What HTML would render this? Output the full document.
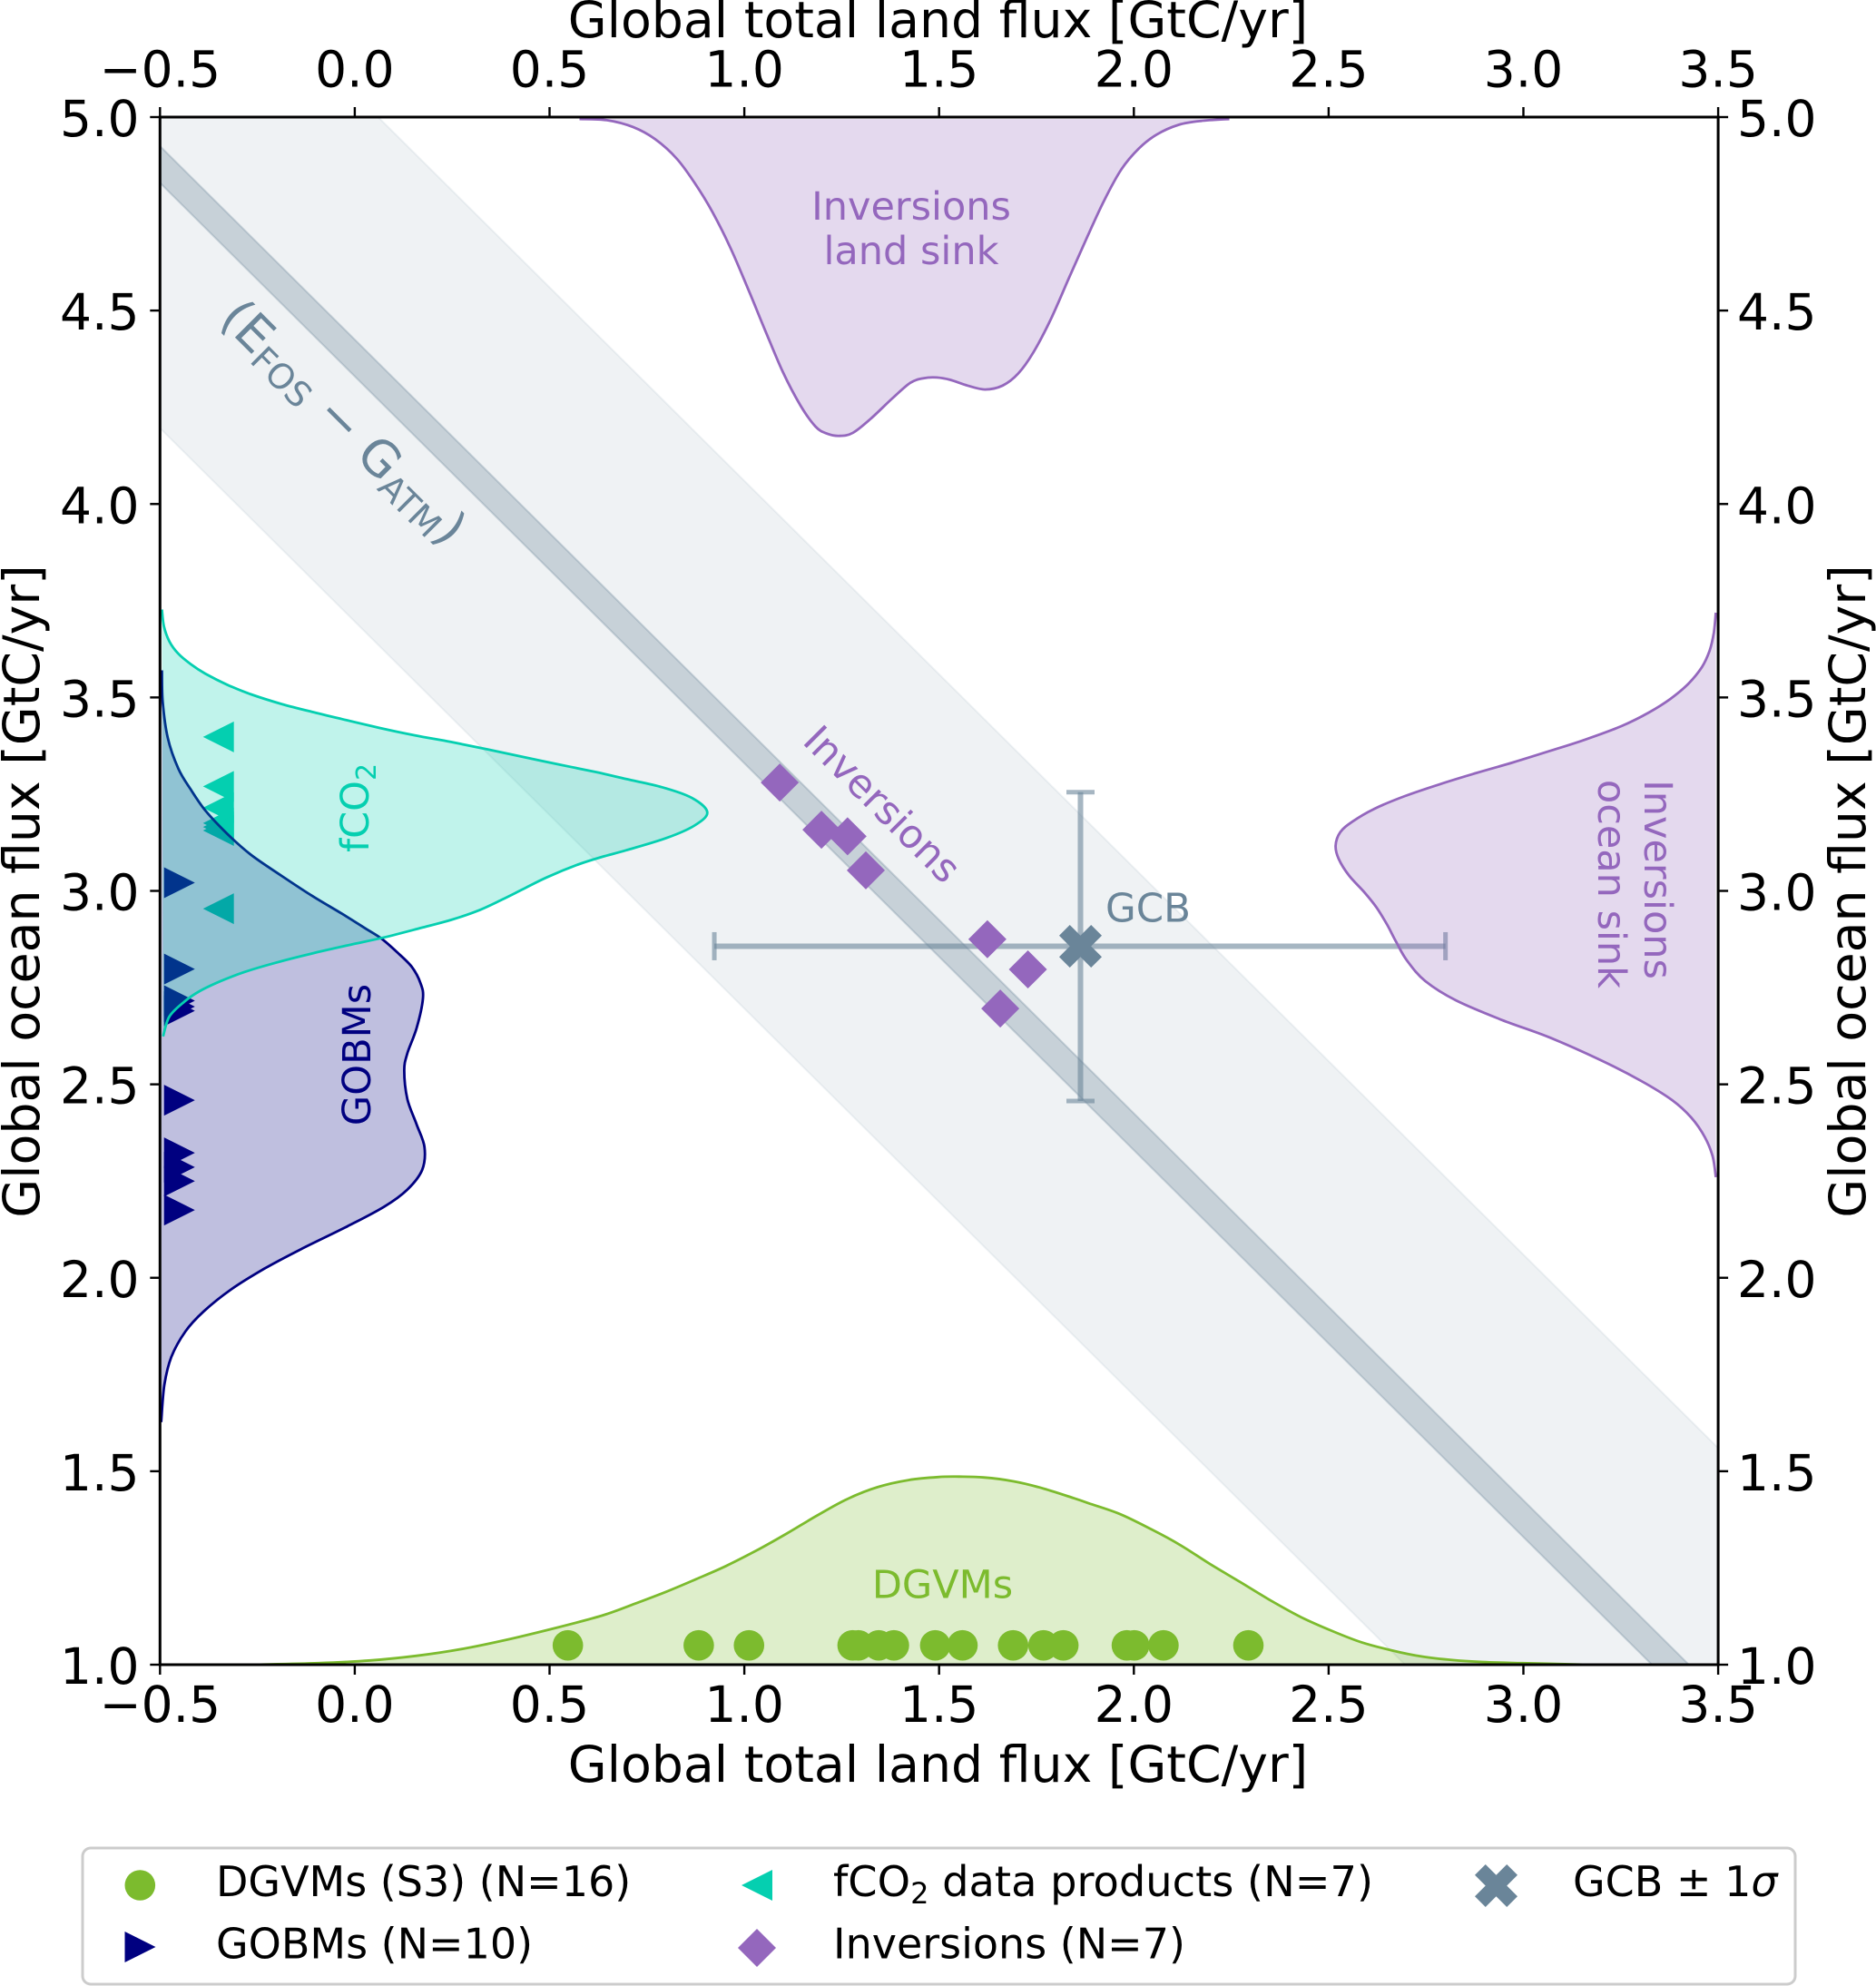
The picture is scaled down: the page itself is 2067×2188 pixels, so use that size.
<!DOCTYPE html>
<html lang="en">
<head>
<meta charset="utf-8">
<title>Global land and ocean carbon flux</title>
<style>
html,body{margin:0;padding:0;background:#fff;}
svg{display:block;}
text{font-family:"DejaVu Sans","Liberation Sans",sans-serif;}
</style>
</head>
<body>
<svg id="chart" xmlns="http://www.w3.org/2000/svg" width="2067" height="2188" viewBox="0 0 2067 2188">
  <defs>
    <clipPath id="plot-clip"><rect x="176.3" y="129" width="1716.8" height="1705"/></clipPath>
  </defs>
  <g id="bands" clip-path="url(#plot-clip)"></g>
  <g id="errorbars"></g>
  <g id="markers"></g>
  <g id="kdes"></g>
  <g id="topmarkers"></g>
  <g id="axes"></g>

  <text x="1033.5" y="41" font-size="55.3" text-anchor="middle">Global total land flux [GtC/yr]</text>
  <text x="1033.5" y="1963" font-size="55.3" text-anchor="middle">Global total land flux [GtC/yr]</text>
  <text transform="translate(43,982) rotate(-90)" font-size="55.3" text-anchor="middle">Global ocean flux [GtC/yr]</text>
  <text transform="translate(2055,982) rotate(-90)" font-size="55.3" text-anchor="middle">Global ocean flux [GtC/yr]</text>

  <text transform="translate(379,465) rotate(45)" font-size="54.6" fill="#6a8599" text-anchor="middle" dy="19">(E<tspan font-size="38" dy="8">FOS</tspan><tspan dy="-8"> − G</tspan><tspan font-size="38" dy="8">ATM</tspan><tspan dy="-8">)</tspan></text>
  <text transform="translate(972,886) rotate(45)" font-size="43.5" fill="#9467bd" text-anchor="middle" dy="15">Inversions</text>
  <text x="1218" y="1015.5" font-size="43.5" fill="#6a8599">GCB</text>
  <text x="1004" y="242" font-size="43" fill="#9467bd" text-anchor="middle">Inversions</text>
  <text x="1004" y="291" font-size="43" fill="#9467bd" text-anchor="middle">land sink</text>
  <text transform="translate(1812,969) rotate(90)" font-size="43" fill="#9467bd" text-anchor="middle">Inversions</text>
  <text transform="translate(1761,974) rotate(90)" font-size="43" fill="#9467bd" text-anchor="middle">ocean sink</text>
  <text transform="translate(406,890) rotate(-90)" font-size="43" fill="#05cfb0" text-anchor="middle">fCO<tspan font-size="30" dy="8">2</tspan></text>
  <text transform="translate(408,1162) rotate(-90)" font-size="43" fill="#000080" text-anchor="middle">GOBMs</text>
  <text x="1038.5" y="1760.5" font-size="43" fill="#7cbb2e" text-anchor="middle">DGVMs</text>

  <g>
    <rect x="91" y="2036" width="1887" height="150" rx="9" ry="9" fill="#fff" stroke="#cccccc" stroke-width="3"/>
    <circle cx="154.3" cy="2077" r="16.8" fill="#7cbb2e"/>
    <text x="238" y="2089" font-size="46">DGVMs (S3) (N=16)</text>
    <polygon points="137.5,2128 171.5,2145 137.5,2162" fill="#000080"/>
    <text x="238" y="2157.5" font-size="46">GOBMs (N=10)</text>
    <polygon points="851,2060 817,2077 851,2094" fill="#05cfb0"/>
    <text x="918" y="2089" font-size="46.3">fCO<tspan font-size="32" dy="8">2</tspan><tspan dy="-8"> data products (N=7)</tspan></text>
    <polygon points="834,2125 855,2146 834,2167 813,2146" fill="#9467bd"/>
    <text x="918" y="2157.5" font-size="46">Inversions (N=7)</text>
    <polygon points="1636.75,2054 1648.5,2065.75 1660.25,2054 1672,2065.75 1660.25,2077.5 1672,2089.25 1660.25,2101 1648.5,2089.25 1636.75,2101 1625,2089.25 1636.75,2077.5 1625,2065.75" fill="#6a8599"/>
    <text x="1733" y="2089" font-size="46">GCB ± 1<tspan font-style="italic">σ</tspan></text>
  </g>
</svg>

<script>
// ---- tick values ----
const xTicks = [-0.5, 0.0, 0.5, 1.0, 1.5, 2.0, 2.5, 3.0, 3.5];
const yTicks = [1.0, 1.5, 2.0, 2.5, 3.0, 3.5, 4.0, 4.5, 5.0];

// ---- budget bands, expressed as land + ocean flux totals ----
const outerBandSum = [3.696, 5.06];
const innerBandSum = [4.33, 4.425];

// ---- GCB estimate ----
const gcbLand = 1.863;
const gcbOcean = 2.857;
const gcbLandRange = [0.923, 2.80];
const gcbOceanRange = [2.457, 3.255];

// ---- individual models ----
const dgvmLand = [0.547, 0.883, 1.012, 1.278, 1.293, 1.345, 1.384, 1.490, 1.560, 1.690, 1.768, 1.819, 1.982, 2.001, 2.076, 2.294];
const dgvmRowOcean = 1.05;
const gobmOcean = [3.021, 2.798, 2.716, 2.701, 2.690, 2.459, 2.323, 2.286, 2.250, 2.175];
const gobmRowLand = -0.45;
const fco2Ocean = [3.398, 3.270, 3.215, 3.175, 3.165, 3.156, 2.954];
const fco2RowLand = -0.35;
const inversionLand = [1.091, 1.198, 1.265, 1.312, 1.624, 1.728, 1.657];
const inversionOcean = [3.280, 3.158, 3.141, 3.053, 2.875, 2.797, 2.696];

// ---- density curves ----
const landInvX = [0.577,0.647,0.715,0.771,0.827,0.873,0.918,0.963,1.008,1.053,1.099,1.144,1.183,1.212,1.245,1.279,1.324,1.381,1.426,1.460,1.494,1.528,1.573,1.618,1.663,1.703,1.742,1.787,1.833,1.878,1.923,1.968,2.013,2.059,2.115,2.172,2.245];
const landInvY = [4.995,4.992,4.974,4.943,4.892,4.829,4.755,4.665,4.560,4.450,4.341,4.255,4.200,4.182,4.176,4.184,4.220,4.274,4.313,4.325,4.327,4.321,4.306,4.296,4.306,4.337,4.392,4.478,4.583,4.685,4.783,4.865,4.919,4.955,4.980,4.990,4.995];

const oceanInvX = [3.494,3.489,3.478,3.458,3.423,3.377,3.322,3.252,3.159,3.066,2.973,2.880,2.786,2.693,2.615,2.561,2.530,2.518,2.526,2.553,2.592,2.623,2.650,2.674,2.701,2.748,2.827,2.946,3.065,3.193,3.302,3.382,3.431,3.466,3.486,3.494];
const oceanInvY = [3.719,3.668,3.621,3.578,3.535,3.496,3.461,3.426,3.391,3.361,3.332,3.305,3.276,3.244,3.211,3.179,3.152,3.117,3.082,3.039,2.996,2.957,2.913,2.867,2.820,2.767,2.717,2.666,2.622,2.565,2.509,2.459,2.414,2.363,2.313,2.260];

const fco2CurveX = [-0.495,-0.490,-0.476,-0.453,-0.421,-0.383,-0.328,-0.266,-0.188,-0.111,-0.033,0.060,0.154,0.247,0.340,0.433,0.527,0.620,0.697,0.789,0.866,0.905,0.872,0.801,0.697,0.635,0.573,0.495,0.433,0.379,0.317,0.247,0.169,0.076,-0.010,-0.111,-0.204,-0.281,-0.344,-0.398,-0.437,-0.476,-0.492];
const fco2CurveY = [3.727,3.684,3.645,3.613,3.586,3.561,3.533,3.508,3.483,3.463,3.444,3.422,3.402,3.385,3.366,3.346,3.326,3.307,3.289,3.268,3.240,3.203,3.169,3.137,3.105,3.088,3.068,3.036,3.005,2.978,2.949,2.925,2.904,2.880,2.861,2.838,2.814,2.791,2.767,2.741,2.714,2.675,2.624];

const gobmCurveX = [-0.495,-0.493,-0.480,-0.453,-0.421,-0.383,-0.328,-0.266,-0.188,-0.111,-0.033,0.029,0.068,0.107,0.146,0.169,0.175,0.159,0.135,0.127,0.135,0.159,0.179,0.173,0.135,0.076,-0.019,-0.138,-0.233,-0.316,-0.388,-0.435,-0.471,-0.489,-0.497];
const gobmCurveY = [3.570,3.488,3.395,3.316,3.262,3.207,3.148,3.093,3.039,2.988,2.941,2.902,2.877,2.843,2.804,2.761,2.722,2.646,2.580,2.536,2.462,2.396,2.338,2.279,2.228,2.184,2.133,2.074,2.023,1.971,1.913,1.861,1.795,1.722,1.627];

const dgvmCurveX = [-0.257,-0.094,0.040,0.159,0.278,0.397,0.516,0.635,0.720,0.798,0.876,0.953,1.031,1.109,1.186,1.264,1.342,1.420,1.497,1.552,1.614,1.691,1.769,1.847,1.885,1.963,2.041,2.118,2.196,2.274,2.351,2.429,2.507,2.584,2.662,2.740,2.818,2.895,2.998,3.163];
const dgvmCurveY = [1.000,1.004,1.011,1.023,1.041,1.066,1.095,1.127,1.158,1.188,1.221,1.255,1.295,1.339,1.385,1.428,1.459,1.477,1.485,1.486,1.484,1.474,1.455,1.430,1.417,1.390,1.352,1.310,1.260,1.213,1.166,1.123,1.088,1.058,1.037,1.021,1.012,1.007,1.004,1.000];

// ---- axis functions ----
const xMin = -0.5, xMax = 3.5, yMin = 1.0, yMax = 5.0;
const L = 176.3, R = 1893.1, T = 129, B = 1834;
function X(v) { return L + (v - xMin) / (xMax - xMin) * (R - L); }
function Y(v) { return B - (v - yMin) / (yMax - yMin) * (B - T); }

const NS = 'http://www.w3.org/2000/svg';
function el(parent, tag, attrs) {
  const e = document.createElementNS(NS, tag);
  for (const k in attrs) e.setAttribute(k, attrs[k]);
  parent.appendChild(e);
  return e;
}
function fmt(v) { return (v < 0 ? '\u2212' : '') + Math.abs(v).toFixed(1); }

// ---- bands ----
const bandsG = document.getElementById('bands');
function bandPoints(lo, hi) {
  const pts = [[xMin, hi - xMin], [xMax, hi - xMax], [xMax, lo - xMax], [xMin, lo - xMin]];
  return pts.map(p => X(p[0]).toFixed(1) + ',' + Y(p[1]).toFixed(1)).join(' ');
}
const outerBand = el(bandsG, 'polygon', {points: bandPoints(outerBandSum[0], outerBandSum[1]), fill: '#6a8599', 'fill-opacity': 0.11, stroke: '#6a8599', 'stroke-opacity': 0.1, 'stroke-width': 2});


const innerBand = el(bandsG, 'polygon', {points: bandPoints(innerBandSum[0], innerBandSum[1]), fill: '#6a8599', 'fill-opacity': 0.3, stroke: '#6a8599', 'stroke-opacity': 0.3, 'stroke-width': 2});



// ---- error bars ----
const ebG = document.getElementById('errorbars');
const ebStyle = {stroke: '#6a8599', 'stroke-opacity': 0.6};
function ebLine(name, x1, y1, x2, y2, w) {
  const ln = el(ebG, 'line', Object.assign({x1: x1, y1: y1, x2: x2, y2: y2, 'stroke-width': w}, ebStyle));
  
  
}
ebLine('gcb-land-error-bar', X(gcbLandRange[0]), Y(gcbOcean), X(gcbLandRange[1]), Y(gcbOcean), 6);
ebLine('gcb-land-cap-low', X(gcbLandRange[0]), Y(gcbOcean) - 15.5, X(gcbLandRange[0]), Y(gcbOcean) + 15.5, 5);
ebLine('gcb-land-cap-high', X(gcbLandRange[1]), Y(gcbOcean) - 15.5, X(gcbLandRange[1]), Y(gcbOcean) + 15.5, 5);
ebLine('gcb-ocean-error-bar', X(gcbLand), Y(gcbOceanRange[1]), X(gcbLand), Y(gcbOceanRange[0]), 6);
ebLine('gcb-ocean-cap-high', X(gcbLand) - 15.5, Y(gcbOceanRange[1]), X(gcbLand) + 15.5, Y(gcbOceanRange[1]), 5);
ebLine('gcb-ocean-cap-low', X(gcbLand) - 15.5, Y(gcbOceanRange[0]), X(gcbLand) + 15.5, Y(gcbOceanRange[0]), 5);

// ---- markers under the density fills ----
const mG = document.getElementById('markers');
dgvmLand.forEach(function (v) {
  const c = el(mG, 'circle', {cx: X(v), cy: Y(dgvmRowOcean), r: 16.8, fill: '#7cbb2e'});
  
  
});
gobmOcean.forEach(function (v) {
  const cx = X(gobmRowLand), cy = Y(v), h = 17;
  const t = el(mG, 'polygon', {points: (cx - h) + ',' + (cy - h) + ' ' + (cx + h) + ',' + cy + ' ' + (cx - h) + ',' + (cy + h), fill: '#000080'});
  
  
});
fco2Ocean.forEach(function (v) {
  const cx = X(fco2RowLand), cy = Y(v), h = 17;
  const t = el(mG, 'polygon', {points: (cx + h) + ',' + (cy - h) + ' ' + (cx - h) + ',' + cy + ' ' + (cx + h) + ',' + (cy + h), fill: '#05cfb0'});
  
  
});

// ---- density curves ----
function smoothPath(xs, ys) {
  const p = xs.map((v, i) => [X(v), Y(ys[i])]);
  let d = 'M' + p[0][0].toFixed(1) + ' ' + p[0][1].toFixed(1);
  for (let i = 0; i < p.length - 1; i++) {
    const a = p[Math.max(0, i - 1)], b = p[i], c = p[i + 1], e = p[Math.min(p.length - 1, i + 2)];
    d += 'C' + (b[0] + (c[0] - a[0]) / 6).toFixed(1) + ' ' + (b[1] + (c[1] - a[1]) / 6).toFixed(1) + ' ' +
         (c[0] - (e[0] - b[0]) / 6).toFixed(1) + ' ' + (c[1] - (e[1] - b[1]) / 6).toFixed(1) + ' ' +
         c[0].toFixed(1) + ' ' + c[1].toFixed(1);
  }
  return d;
}
const kG = document.getElementById('kdes');
function curve(name, xs, ys, color) {
  const d = smoothPath(xs, ys);
  const f = el(kG, 'path', {d: d + 'Z', fill: color, 'fill-opacity': 0.25, stroke: 'none'});
  
  
  const s = el(kG, 'path', {d: d, fill: 'none', stroke: color, 'stroke-width': 2.8});
  
  
}
curve('dgvm-density', dgvmCurveX, dgvmCurveY, '#7cbb2e');
curve('inversions-land-density', landInvX, landInvY, '#9467bd');
curve('inversions-ocean-density', oceanInvX, oceanInvY, '#9467bd');
curve('gobm-density', gobmCurveX, gobmCurveY, '#000080');
curve('fco2-density', fco2CurveX, fco2CurveY, '#05cfb0');

// ---- markers above the fills ----
const tG = document.getElementById('topmarkers');
inversionLand.forEach(function (v, i) {
  const cx = X(v), cy = Y(inversionOcean[i]), h = 21;
  const m = el(tG, 'polygon', {points: cx + ',' + (cy - h) + ' ' + (cx + h) + ',' + cy + ' ' + cx + ',' + (cy + h) + ' ' + (cx - h) + ',' + cy, fill: '#9467bd'});
  
  
});
(function () {
  const cx = X(gcbLand), cy = Y(gcbOcean), u = 11.75;
  const shape = [[-1,-2],[0,-1],[1,-2],[2,-1],[1,0],[2,1],[1,2],[0,1],[-1,2],[-2,1],[-1,0],[-2,-1]];
  const m = el(tG, 'polygon', {points: shape.map(s => (cx + s[0] * u).toFixed(1) + ',' + (cy + s[1] * u).toFixed(1)).join(' '), fill: '#6a8599'});
  
  
})();

// ---- axes ----
const aG = document.getElementById('axes');
const frame = el(aG, 'rect', {x: L, y: T, width: R - L, height: B - T, fill: 'none', stroke: '#000', 'stroke-width': 3});


xTicks.forEach(function (v) {
  const x = X(v);
  const t1 = el(aG, 'line', {x1: x, y1: T, x2: x, y2: T - 11, stroke: '#000', 'stroke-width': 2.4});
  
  
  const t2 = el(aG, 'line', {x1: x, y1: B, x2: x, y2: B + 11, stroke: '#000', 'stroke-width': 2.4});
  
  
  const l1 = el(aG, 'text', {x: x, y: 95.5, 'font-size': 55, 'text-anchor': 'middle'});
  
  
  l1.textContent = fmt(v);
  const l2 = el(aG, 'text', {x: x, y: 1897, 'font-size': 55, 'text-anchor': 'middle'});
  
  
  l2.textContent = fmt(v);
});
yTicks.forEach(function (v) {
  const y = Y(v);
  const t1 = el(aG, 'line', {x1: L, y1: y, x2: L - 11, y2: y, stroke: '#000', 'stroke-width': 2.4});
  
  
  const t2 = el(aG, 'line', {x1: R, y1: y, x2: R + 11, y2: y, stroke: '#000', 'stroke-width': 2.4});
  
  
  const l1 = el(aG, 'text', {x: 153.5, y: y + 21, 'font-size': 55, 'text-anchor': 'end'});
  
  
  l1.textContent = fmt(v);
  const l2 = el(aG, 'text', {x: 1914, y: y + 21, 'font-size': 55});
  
  
  l2.textContent = fmt(v);
});
</script>
</body>
</html>
